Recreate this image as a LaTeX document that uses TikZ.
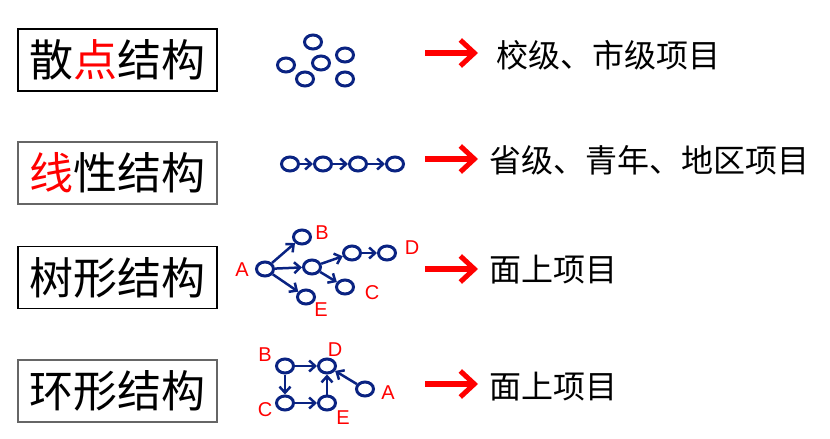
\documentclass[tikz,border=0pt]{standalone}
\usepackage{fontspec}
\setmainfont{Liberation Sans}
\newfontfamily\cjk{Noto Sans CJK SC}
\usetikzlibrary{arrows.meta}
\usetikzlibrary{shapes.geometric}
\definecolor{navy}{RGB}{10,35,130}
\tikzset{t/.style={draw, line width=1.2pt, minimum width=199pt, minimum height=62pt, inner sep=0pt, font=\cjk\fontsize{44}{44}\selectfont}}
\tikzset{r/.style={anchor=west, inner sep=0pt, font=\cjk\fontsize{32}{32}\selectfont}}
\tikzset{lab/.style={text=red, inner sep=0pt, font=\fontsize{20}{20}\selectfont}}
\tikzset{
v/.style={ellipse, draw=navy, line width=3pt, minimum width=17pt, minimum height=14pt, inner sep=0pt},
e/.style={draw=navy, line width=2.5pt, -{Straight Barb[length=6pt,width=11pt]}},
go/.style={draw=red, line width=6pt, -{Straight Barb[length=14pt,width=26pt,line width=5pt]}}
}

\begin{document}
\begin{tikzpicture}[x=1pt,y=-1pt]
    \useasboundingbox (0,0) rectangle (830,439);
    % left boxes
    \node[t] (t1) at (117.5,60) {散{\color{red}点}结构};
    \node[t, draw=black!60] (t2) at (117.5,173) {{\color{red}线}性结构};
    \node[t] (t3) at (117.5,277.5) {树形结构};
    \node[t, draw=black!60] (t4) at (117.5,391) {环形结构};
    % scatter
    \node[v] (s1) at (313,42) {};
    \node[v] (s2) at (286,65) {};
    \node[v] (s3) at (321,63) {};
    \node[v] (s4) at (345,55) {};
    \node[v] (s5) at (305,79) {};
    \node[v] (s6) at (345,79) {};
    % line
    \node[v] (l1) at (290,164) {};
    \node[v] (l2) at (323,164) {};
    \node[v] (l3) at (358,164) {};
    \node[v] (l4) at (395,164) {};
    \draw[e] (l1) -- (l2);
    \draw[e] (l2) -- (l3);
    \draw[e] (l3) -- (l4);
    % tree
    \node[v] (ta) at (265,269) {};
    \node[v] (tb) at (302,237) {};
    \node[v] (tm) at (312,267) {};
    \node[v] (tn) at (352,253) {};
    \node[v] (td) at (387,253) {};
    \node[v] (tc) at (345,287) {};
    \node[v] (te) at (306,297) {};
    \draw[e] (ta) -- (tb);
    \draw[e] (ta) -- (tm);
    \draw[e] (ta) -- (te);
    \draw[e] (tm) -- (tn);
    \draw[e] (tn) -- (td);
    \draw[e] (tm) -- (tc);
    \node[lab] (la) at (242,270) {A};
    \node[lab] (lb) at (322,233) {B};
    \node[lab] (ld) at (412,248) {D};
    \node[lab] (lc) at (372,293) {C};
    \node[lab] (le) at (321,310) {E};
    % ring
    \node[v] (rb) at (285,366) {};
    \node[v] (rd) at (327,366) {};
    \node[v] (rc) at (285,403) {};
    \node[v] (re) at (327,403) {};
    \node[v] (ra) at (365,389) {};
    \draw[e] (rb) -- (rd);
    \draw[e] (rb) -- (rc);
    \draw[e] (rc) -- (re);
    \draw[e] (re) -- (rd);
    \draw[e] (ra) -- (rd);
    \node[lab] (mb) at (265,355) {B};
    \node[lab] (md) at (335,350) {D};
    \node[lab] (mc) at (265,410) {C};
    \node[lab] (me) at (343,418) {E};
    \node[lab] (ma) at (388,393) {A};
    % right side
    \node[r] (r1) at (496,55) {校级、市级项目};
    \node[r] (r2) at (489,160) {省级、青年、地区项目};
    \node[r] (r3) at (489,270) {面上项目};
    \node[r] (r4) at (489,387) {面上项目};
    \coordinate (g1) at (425,53);
    \coordinate (g2) at (425,159);
    \coordinate (g3) at (425,269);
    \coordinate (g4) at (425,384);
    \draw[go, shorten >=18pt] (g1) -- (r1.west |- g1);
    \draw[go, shorten >=11pt] (g2) -- (r2.west |- g2);
    \draw[go, shorten >=11pt] (g3) -- (r3.west |- g3);
    \draw[go, shorten >=11pt] (g4) -- (r4.west |- g4);
\end{tikzpicture}
\end{document}
